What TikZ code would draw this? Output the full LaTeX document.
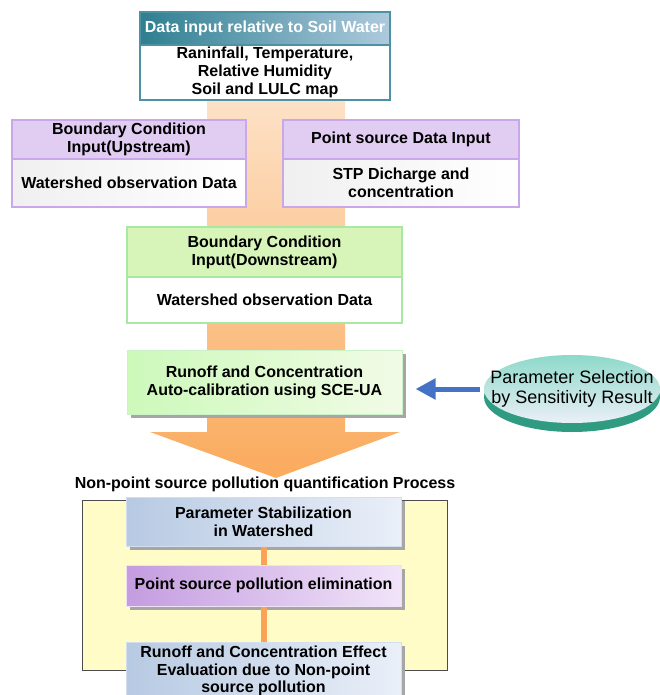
\documentclass[tikz,border=0pt]{standalone}
\usepackage{fontspec}
\setmainfont{Liberation Sans}
\usetikzlibrary{shapes.geometric, shadows, arrows.meta}

\definecolor{tealdark}{HTML}{2E7F91}
\definecolor{teallight}{HTML}{AECADD}
\definecolor{lilac}{HTML}{E2CDF2}
\definecolor{lilacline}{HTML}{C8A8E8}
\definecolor{leaf}{HTML}{D7F5B8}
\definecolor{leafline}{HTML}{A9E8A4}
\definecolor{peach}{HTML}{FDE1C6}
\definecolor{pumpkin}{HTML}{FAAA5C}
\definecolor{skyline}{HTML}{D3DEEE}
\definecolor{steel}{HTML}{B7CAE3}
\definecolor{mist}{HTML}{EAEFF8}
\definecolor{orchid}{HTML}{C49CE0}
\definecolor{blush}{HTML}{F1E4F9}
\definecolor{aqua}{HTML}{8ED9C9}
\definecolor{pine}{HTML}{2F9C82}
\definecolor{cobalt}{HTML}{4472C4}

\tikzset{
	txt/.style = {font = \fontsize{16}{17.8}\selectfont\bfseries, align = center, inner sep = 0pt},
	part/.style 2 args = {txt, draw = #2, line width = 1.6pt, minimum width = #1, outer sep = 0pt},
	shadowbox/.style = {txt, minimum width = 275pt, draw = skyline, line width = 1pt,
		drop shadow = {shadow xshift = 4pt, shadow yshift = -4pt, fill = black!35, opacity = 1}},
	link/.style = {line width = 6pt, draw = pumpkin!95!red},
}

\begin{document}
\begin{tikzpicture}[x = 1pt, y = -1pt]

	\useasboundingbox (0, 0) rectangle (660, 695);
	\clip (0, 0) rectangle (660, 695);

	% Broad orange flow arrow in the background

	\shade [top color = peach, bottom color = pumpkin]
		(207, 100) -- (345, 100) -- (345, 432) -- (400, 432) -- (276, 478)
		-- (150, 432) -- (207, 432) -- cycle;

	% Input data boxes

	\node (soilHead) at (265, 28.5) [part = {250pt}{tealdark!85}, minimum height = 33pt,
		left color = tealdark, right color = teallight, text = white] {Data input relative to Soil Water};
	\node (soilBody) at (265, 72.5) [part = {250pt}{tealdark!85}, minimum height = 55pt, fill = white]
		{Raninfall, Temperature,\\ Relative Humidity\\ Soil and LULC map};

	\node (upHead) at (129, 139.5) [part = {234pt}{lilacline}, minimum height = 39pt, fill = lilac]
		{Boundary Condition\\ Input(Upstream)};
	\node (upBody) at (129, 183) [part = {234pt}{lilacline}, minimum height = 48pt,
		left color = black!6, right color = white] {Watershed observation Data};

	\node (stpHead) at (401, 139.5) [part = {236pt}{lilacline}, minimum height = 39pt, fill = lilac]
		{Point source Data Input};
	\node (stpBody) at (401, 183) [part = {236pt}{lilacline}, minimum height = 48pt,
		left color = black!6, right color = white] {STP Dicharge and\\ concentration};

	\node (downHead) at (264.5, 252) [part = {275pt}{leafline}, minimum height = 50pt, fill = leaf]
		{Boundary Condition\\ Input(Downstream)};
	\node (downBody) at (264.5, 300) [part = {275pt}{leafline}, minimum height = 46pt, fill = white]
		{Watershed observation Data};

	% Calibration step with parameter selection

	\node (calib) at (264.5, 382) [shadowbox, draw = leafline!60, minimum height = 64pt,
		left color = leaf!85!green!70!white, right color = leaf!35] {Runoff and Concentration\\ Auto-calibration using SCE-UA};

	\fill [pine] (572, 397) ellipse (88 and 35);
	\node (param) at (572, 389) [ellipse, minimum width = 176pt, minimum height = 68pt, inner sep = 0pt,
		top color = aqua, bottom color = mist] {};
	\node (paramText) at (param.center) [align = center, inner sep = 0pt,
		font = \fontsize{18}{19.5}\selectfont] {Parameter Selection\\ by Sensitivity Result};

	\draw [-{Triangle[length = 20pt, width = 20pt]}, line width = 5pt, cobalt,
		shorten < = 4pt, shorten > = 13pt] (param.west) -- (calib.east |- param.west);

	% Non-point source quantification process

	\node (process) at (265, 484) [txt] {Non-point source pollution quantification Process};

	\draw [fill = yellow!22, draw = black!70, line width = 1pt] (82, 500) rectangle (447, 670);

	\node (stab) at (263.5, 521.5) [shadowbox, minimum height = 49pt,
		left color = steel, right color = mist] {Parameter Stabilization\\ in Watershed};
	\node (elim) at (263.5, 585.5) [shadowbox, minimum height = 41pt, draw = orchid!30,
		left color = orchid, right color = blush] {Point source pollution elimination};
	\node (effect) at (263.5, 671) [shadowbox, minimum height = 58pt,
		left color = steel, right color = mist]
		{Runoff and Concentration Effect\\ Evaluation due to Non-point\\ source pollution};

	\draw [link] (stab.south) -- (elim.north);
	\draw [link] (elim.south) -- (effect.north);

\end{tikzpicture}
\end{document}
